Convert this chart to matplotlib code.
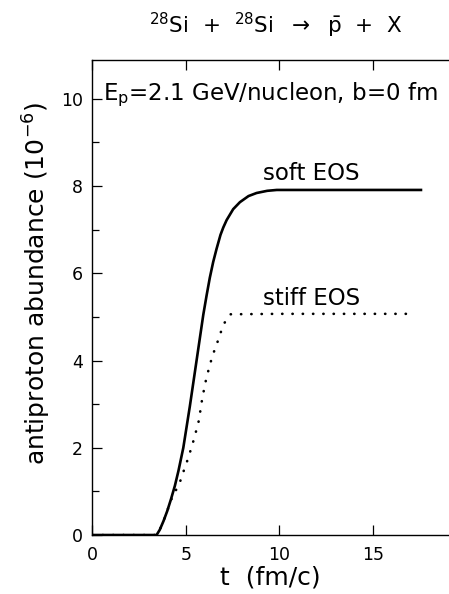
import matplotlib
matplotlib.use("Agg")
import matplotlib.pyplot as plt
from matplotlib.ticker import MultipleLocator

# soft EOS curve
soft_t = [0.0, 1.0, 2.0, 3.0, 3.43, 3.6, 3.8, 4.0, 4.2, 4.41, 4.6, 4.86, 5.21, 5.57,
          5.93, 6.11, 6.28, 6.46, 6.64, 6.85, 7.0, 7.18, 7.53, 7.89, 8.35, 8.78,
          9.35, 9.86, 12.0, 15.0, 17.65]
soft_y = [0.0, 0.0, 0.0, 0.0, 0.0, 0.12, 0.32, 0.55, 0.82, 1.13, 1.47, 2.0, 2.95,
          4.0, 5.05, 5.5, 5.9, 6.26, 6.56, 6.88, 7.05, 7.22, 7.47, 7.63, 7.77, 7.84,
          7.89, 7.91, 7.91, 7.91, 7.91]

# stiff EOS curve
stiff_t = [0.0, 1.0, 2.0, 3.0, 3.43, 3.6, 3.8, 4.0, 4.2, 4.41, 4.67, 4.84, 5.04,
           5.22, 5.39, 5.55, 5.69, 5.78, 5.87, 5.98, 6.10, 6.26, 6.42, 6.64, 6.85,
           7.06, 7.39, 10.0, 14.0, 17.1]
stiff_y = [0.0, 0.0, 0.0, 0.0, 0.0, 0.12, 0.32, 0.55, 0.8, 0.98, 1.2, 1.42, 1.66,
           1.90, 2.14, 2.39, 2.62, 2.87, 3.12, 3.36, 3.61, 3.86, 4.11, 4.36, 4.63,
           4.86, 5.06, 5.07, 5.07, 5.07]

x_ticks = [0, 5, 10, 15]
y_ticks = [0, 2, 4, 6, 8, 10]

plt.rcParams['font.family'] = ['DejaVu Sans']
plt.rcParams['mathtext.fontset'] = 'dejavusans'

fig = plt.figure(figsize=(4.49, 5.94), dpi=100)
ax = fig.add_axes([0.206, 0.0993, 0.794, 0.8005])

ax.plot(soft_t, soft_y, color='black', lw=1.9, solid_capstyle='butt',
        solid_joinstyle='round')
ax.plot(stiff_t, stiff_y, color='black', lw=1.9,
        linestyle=(0, (0.1, 3.8)), dash_capstyle='round')

ax.set_xlim(0, 19.08)
ax.set_ylim(0, 10.9)
ax.set_xticks(x_ticks)
ax.set_yticks(y_ticks)
ax.yaxis.set_minor_locator(MultipleLocator(1))
ax.spines['right'].set_visible(False)
for s in ['left', 'bottom', 'top']:
    ax.spines[s].set_linewidth(1.0)

ax.tick_params(axis='both', which='major', direction='in', length=7, width=0.9,
               labelsize=12.5, top=True, right=False)
ax.tick_params(axis='y', which='major', pad=7)
ax.tick_params(axis='x', which='major', pad=8)
ax.tick_params(axis='y', which='minor', direction='in', length=5, width=0.9)

ax.set_xlabel('t  (fm/c)', fontsize=18, labelpad=1)
ax.set_ylabel(r'antiproton abundance (10$^{-6}$)', fontsize=18)
ax.yaxis.set_label_coords(-0.112, 0.53)

fig.text(0.614, 0.958, r'$^{28}$Si  +  $^{28}$Si  $\rightarrow$  $\bar{\mathrm{p}}$  +  X',
         ha='center', va='center', fontsize=15.5)
ax.text(0.029, 9.97, r'E$_\mathrm{p}$=2.1 GeV/nucleon, b=0 fm',
        transform=ax.get_yaxis_transform(), ha='left', va='baseline', fontsize=16.5)
ax.text(9.12, 8.14, 'soft EOS', ha='left', va='baseline', fontsize=16.5)
ax.text(9.12, 5.27, 'stiff EOS', ha='left', va='baseline', fontsize=16.5)

fig.savefig('out.png', dpi=100)
